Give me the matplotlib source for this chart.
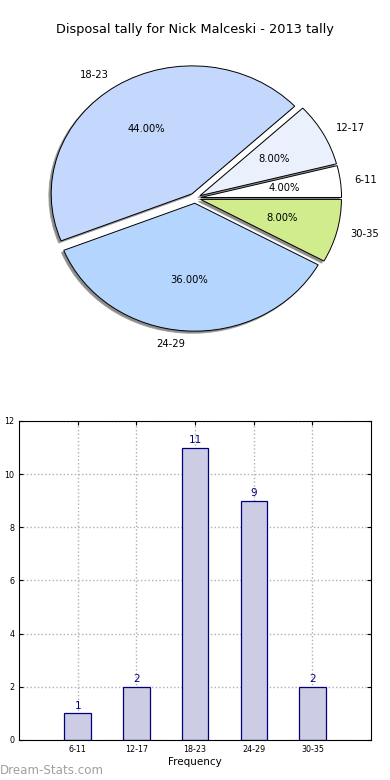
import numpy as np
import matplotlib
matplotlib.use("Agg")
import matplotlib.pyplot as plt

# disposal tally bins and games per bin
bins = ["6-11", "12-17", "18-23", "24-29", "30-35"]
games = [1, 2, 11, 9, 2]
pie_colors = ["#ffffff", "#eaf1fd", "#c4d8fe", "#b4d5fe", "#d0ec8c"]
title = "Disposal tally for Nick Malceski - 2013 tally"

fig = plt.figure(figsize=(3.9, 7.8), dpi=100)

# pie on top, not equal aspect (stretched like the old renderer)
ax1 = fig.add_axes([0.0487, 0.541, 0.903, 0.410])
wedges, texts, autotexts = ax1.pie(
    games, labels=bins, colors=pie_colors, explode=[0.04] * len(games),
    autopct="%.2f%%", startangle=0,
    shadow=dict(ox=-0.012, oy=-0.012, facecolor="#6f6f6f", edgecolor="#9a9a9a", alpha=0.8),
    wedgeprops=dict(edgecolor="black", linewidth=0.7),
    textprops=dict(fontsize=7.2))
ax1.set_aspect("auto")
ax1.set_xlim(-1.25, 1.25)
ax1.set_ylim(-1.25, 1.25)
ax1.set_axis_off()
fig.text(0.5, 0.962, title, ha="center", va="center", fontsize=9.3)

# bar chart below
ax2 = fig.add_axes([0.0487, 0.0513, 0.903, 0.409])
pos = np.arange(1, len(bins) + 1)
ax2.bar(pos, games, width=0.45, color="#ccccE5", edgecolor="#00007f", linewidth=0.9, zorder=2)
for p, g in zip(pos, games):
    ax2.text(p, g + 0.1, str(g), ha="center", va="bottom", color="#00007f", fontsize=7.5)
ax2.set_xlim(0, 6)
ax2.set_ylim(0, 12)
ax2.set_xticks(pos)
ax2.set_xticklabels(bins)
ax2.set_yticks(range(0, 13, 2))
ax2.tick_params(labelsize=5.8, direction="in", length=3, top=True, right=True)
ax2.grid(True, linestyle=":", color="#b0b0b0", linewidth=1.0, zorder=0)
ax2.set_axisbelow(True)
ax2.set_xlabel("Frequency", fontsize=7.5, labelpad=2)
ax2.set_ylabel("Disposal Tally", fontsize=7.5, labelpad=8)

fig.text(0.0, 0.012, "Dream-Stats.com", color="#a0a0a0", fontsize=8.6, ha="left", va="center")

fig.savefig("out.png", dpi=100)
